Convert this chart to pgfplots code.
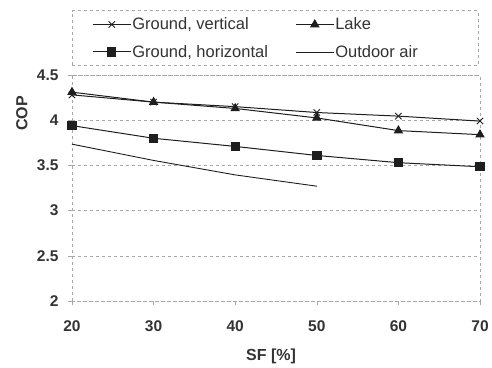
\documentclass[border=0pt]{standalone}
\usepackage{pgfplots}
\pgfplotsset{compat=1.18}
\usepackage{fontspec}
\setmainfont{Liberation Sans}
\definecolor{txt}{HTML}{333333}
\definecolor{ln}{HTML}{1E1E1E}
\definecolor{gridc}{HTML}{A8A8A8}
\begin{document}
\begin{tikzpicture}
\useasboundingbox (-72pt,-66pt) rectangle (420pt,301pt);
\begin{axis}[
  scale only axis,
  width=408pt, height=226pt,
  xmin=20, xmax=70, ymin=2, ymax=4.5,
  xtick={20,30,40,50,60,70},
  ytick={2,2.5,3,3.5,4,4.5},
  xtick pos=bottom, ytick pos=left,
  tick align=outside, major tick length=4pt,
  tick style={gridc, solid, line width=0.5pt},
  axis line style={gridc, dashed, line width=0.6pt},
  ymajorgrids, grid style={gridc, dashed, line width=0.6pt},
  /pgf/number format/assume math mode=true,
  ticklabel style={font=\fontsize{15.5}{17}\selectfont\bfseries, text=txt},
  yticklabel style={xshift=-6pt},
  xticklabel style={yshift=-12pt},
  xlabel={SF [\%]}, ylabel={COP},
  label style={font=\fontsize{16}{18}\selectfont\bfseries, text=txt},
  xlabel style={at={(axis description cs:0.488,0)}, anchor=center, yshift=-55pt},
  ylabel style={at={(axis description cs:-0.123,0.83)}, anchor=center},
  legend columns=2,
  legend cell align=left,
  legend image code/.code={\draw[mark repeat=2,mark phase=2,#1] plot coordinates {(0pt,0pt) (19pt,0pt) (38pt,0pt)};},
  legend style={at={(axis description cs:0,1)}, anchor=south west, yshift=9pt,
    draw=gridc, dashed, line width=0.6pt,
    font=\fontsize{16.5}{20}\selectfont, text=txt,
    inner xsep=20pt, inner ysep=5pt, row sep=10pt,
    nodes={inner xsep=1pt, inner ysep=2pt}},
]
\addplot[ln, solid, line width=1pt, mark=x, mark size=4.5pt, mark options={solid, line width=0.9pt}]
  coordinates {(20,4.28) (30,4.20) (40,4.15) (50,4.085) (60,4.045) (70,3.99)};
\addlegendentry{\makebox[162pt][l]{Ground, vertical}}
\addplot[ln, solid, line width=1pt, mark=triangle*, mark size=4.5pt, mark options={solid, fill=ln}]
  coordinates {(20,4.31) (30,4.20) (40,4.13) (50,4.025) (60,3.885) (70,3.84)};
\addlegendentry{\makebox[122pt][l]{Lake}}
\addplot[ln, solid, line width=1pt, mark=square*, mark size=4.2pt, mark options={solid, fill=ln}]
  coordinates {(20,3.94) (30,3.80) (40,3.71) (50,3.61) (60,3.53) (70,3.485)};
\addlegendentry{\makebox[162pt][l]{Ground, horizontal}}
\addplot[ln, solid, line width=0.9pt]
  coordinates {(20,3.735) (30,3.555) (40,3.395) (50,3.27)};
\addlegendentry{\makebox[122pt][l]{Outdoor air}}
\end{axis}
\end{tikzpicture}
\end{document}
